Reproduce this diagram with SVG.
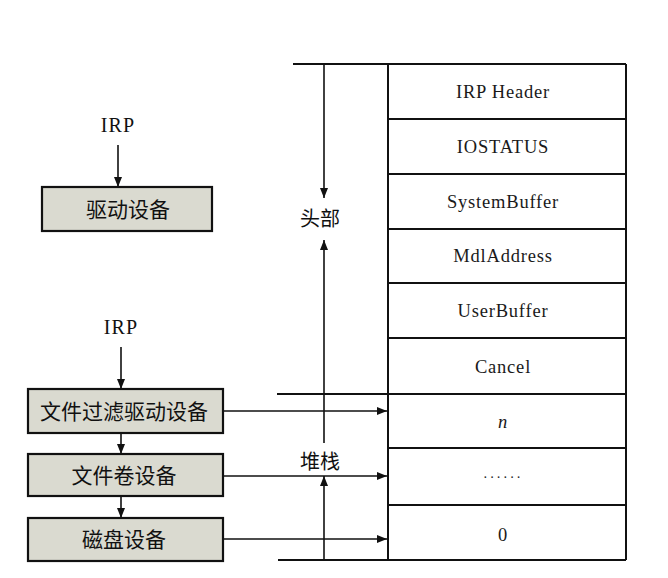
<svg xmlns="http://www.w3.org/2000/svg" width="668" height="578" viewBox="0 0 668 578">
<defs>
<marker id="ah" viewBox="0 0 10 10" refX="10" refY="5" markerWidth="10" markerHeight="10" markerUnits="userSpaceOnUse" orient="auto">
<path d="M0,1 L10,5 L0,9 Z" fill="#111"/>
</marker>
</defs>
<style>
.ln{stroke:#111;stroke-width:2;fill:none}
.ar{stroke:#111;stroke-width:1.6;fill:none;marker-end:url(#ah)}
.box{fill:#dadad0;stroke:#111;stroke-width:2.2}
.t{font-family:"Liberation Serif","Noto Sans CJK SC",serif;font-size:18.5px;letter-spacing:0.8px;fill:#1a1a1a;text-anchor:middle}
.cn{font-family:"Noto Sans CJK SC",sans-serif;font-size:21px;fill:#111;text-anchor:middle}
.lbl{font-family:"Liberation Serif",serif;font-size:20px;letter-spacing:1.2px;fill:#111;text-anchor:middle}
</style>
<rect width="668" height="578" fill="#fff"/>
<g id="connectors">
<line class="ar" x1="118" y1="145" x2="118" y2="187"/>
<line class="ar" x1="121" y1="347" x2="121" y2="389"/>
<line class="ar" x1="121" y1="433" x2="121" y2="454"/>
<line class="ar" x1="121" y1="496" x2="121" y2="518"/>
<line class="ar" x1="223" y1="411" x2="387" y2="411"/>
<line class="ar" x1="223" y1="476" x2="387" y2="476"/>
<line class="ar" x1="223" y1="539" x2="387" y2="539"/>
<line class="ar" x1="324" y1="64" x2="324" y2="198"/>
<line class="ar" x1="324" y1="443" x2="324" y2="240"/>
<line class="ar" x1="324" y1="560" x2="324" y2="476"/>
</g>
<g id="irp1"><text class="lbl" x="118" y="132">IRP</text></g>
<g id="irp2"><text class="lbl" x="121" y="334">IRP</text></g>
<g id="driver"><rect class="box" x="42" y="187" width="170" height="44"/><text class="cn" x="128" y="217">驱动设备</text></g>
<g id="filter"><rect class="box" x="28" y="389" width="195" height="44"/><text class="cn" x="124" y="419">文件过滤驱动设备</text></g>
<g id="volume"><rect class="box" x="28" y="454" width="195" height="42"/><text class="cn" x="124" y="483">文件卷设备</text></g>
<g id="disk"><rect class="box" x="28" y="518" width="195" height="43"/><text class="cn" x="124" y="547">磁盘设备</text></g>
<g id="head-label"><text class="cn" x="320" y="226" style="font-size:20px">头部</text></g>
<g id="stack-label"><text class="cn" x="320" y="469" style="font-size:20px">堆栈</text></g>
<g id="irp-table">
<line class="ln" x1="293" y1="64" x2="626" y2="64"/>
<line class="ln" x1="277" y1="394" x2="626" y2="394"/>
<line class="ln" x1="278" y1="560" x2="626" y2="560"/>
<line class="ln" x1="388" y1="64" x2="388" y2="560"/>
<line class="ln" x1="626" y1="64" x2="626" y2="560"/>
<line class="ln" x1="388" y1="119" x2="626" y2="119"/>
<line class="ln" x1="388" y1="174" x2="626" y2="174"/>
<line class="ln" x1="388" y1="229" x2="626" y2="229"/>
<line class="ln" x1="388" y1="283" x2="626" y2="283"/>
<line class="ln" x1="388" y1="338" x2="626" y2="338"/>
<line class="ln" x1="388" y1="448" x2="626" y2="448"/>
<line class="ln" x1="388" y1="505" x2="626" y2="505"/>
<text class="t" x="503" y="98">IRP Header</text>
<text class="t" x="503" y="153">IOSTATUS</text>
<text class="t" x="503" y="208">SystemBuffer</text>
<text class="t" x="503" y="262">MdlAddress</text>
<text class="t" x="503" y="317">UserBuffer</text>
<text class="t" x="503" y="373">Cancel</text>
<text class="t" x="503" y="428" font-style="italic">n</text>
<text class="t" x="503" y="482" style="font-size:14px;letter-spacing:2px">······</text>
<text class="t" x="503" y="541">0</text>
</g>
</svg>
